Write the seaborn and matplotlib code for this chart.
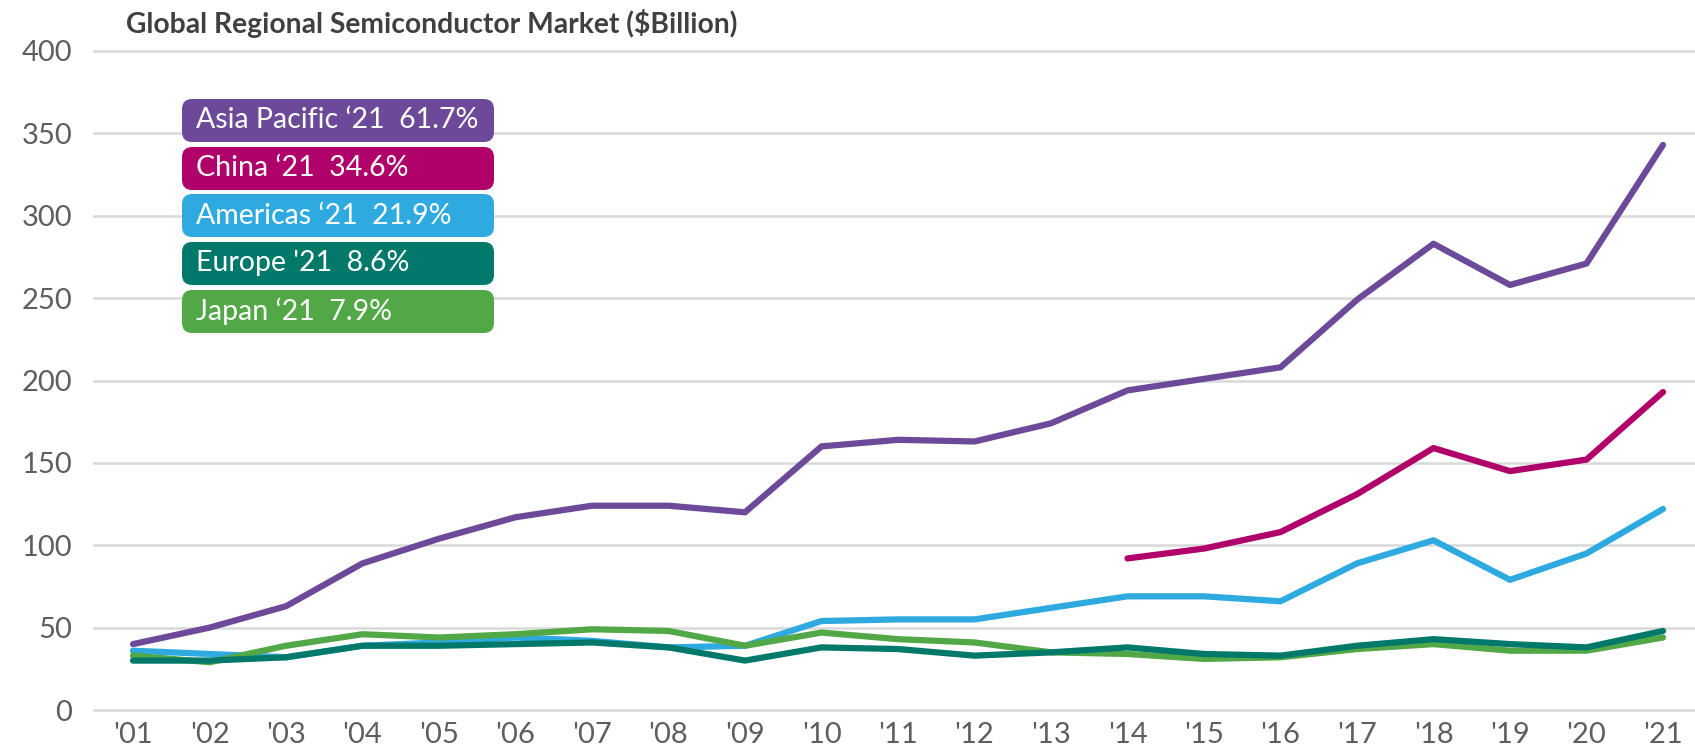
import matplotlib
matplotlib.use("Agg")
import matplotlib.pyplot as plt
from matplotlib.patches import FancyBboxPatch
import seaborn as sns
import pandas as pd

# Data ($ billion)
years = list(range(2001, 2022))
asia_pacific = [40, 50, 63, 89, 104, 117, 124, 124, 120, 160, 164, 163,
                174, 194, 201, 208, 249, 283, 258, 271, 343]
china_years = list(range(2014, 2022))
china = [92, 98, 108, 131, 159, 145, 152, 193]
americas = [36, 34, 32, 39, 41, 44, 42, 38, 39, 54, 55, 55,
            62, 69, 69, 66, 89, 103, 79, 95, 122]
europe = [30, 30, 32, 39, 39, 40, 41, 38, 30, 38, 37, 33,
          35, 38, 34, 33, 39, 43, 40, 38, 48]
japan = [33, 29, 39, 46, 44, 46, 49, 48, 39, 47, 43, 41,
         35, 34, 31, 32, 37, 40, 36, 36, 44]

regions = ["Asia Pacific", "China", "Americas", "Japan", "Europe"]
legend_order = ["Asia Pacific", "China", "Americas", "Europe", "Japan"]
legend_labels = {
    "Asia Pacific": "Asia Pacific \u201821  61.7%",
    "China": "China \u201821  34.6%",
    "Americas": "Americas \u201821  21.9%",
    "Europe": "Europe '21  8.6%",
    "Japan": "Japan \u201821  7.9%",
}
palette = {
    "Asia Pacific": "#6C4A99",
    "China": "#B0016A",
    "Americas": "#2FAAE1",
    "Europe": "#00796A",
    "Japan": "#52A846",
}
yticks = [0, 50, 100, 150, 200, 250, 300, 350, 400]

frames = [
    pd.DataFrame({"year": years, "value": asia_pacific, "region": "Asia Pacific"}),
    pd.DataFrame({"year": china_years, "value": china, "region": "China"}),
    pd.DataFrame({"year": years, "value": americas, "region": "Americas"}),
    pd.DataFrame({"year": years, "value": japan, "region": "Japan"}),
    pd.DataFrame({"year": years, "value": europe, "region": "Europe"}),
]
df = pd.concat(frames, ignore_index=True)

sns.set_style("white")
plt.rcParams["font.family"] = ["Lato", "DejaVu Sans"]

W, H = 1695, 752
fig = plt.figure(figsize=(W / 100, H / 100), dpi=100)
# axes spans pixel x 93..1695, y 47..715
ax = fig.add_axes([93 / W, 1 - 715 / H, (W - 93) / W, (715 - 47) / H])

sns.lineplot(data=df, x="year", y="value", hue="region", hue_order=regions,
             palette=palette, linewidth=4.5, legend=False, ax=ax,
             solid_capstyle="round", solid_joinstyle="round")

px_per_year = 76.5
px_per_unit = 660 / 400
ax.set_xlim(2001 - 40 / px_per_year, 2021 + 32 / px_per_year)
ax.set_ylim(-5 / px_per_unit, 400 + 4 / px_per_unit)
ax.set_yticks(yticks)
ax.set_xticks(years)
ax.set_xticklabels([f"'{y % 100:02d}" for y in years])
ax.grid(axis="y", color="#D9D9D9", linewidth=1.8)
ax.set_axisbelow(True)
for s in ax.spines.values():
    s.set_visible(False)
ax.set_xlabel("")
ax.set_ylabel("")
ax.tick_params(axis="both", length=0, labelsize=21, colors="#5E5E5E")
ax.tick_params(axis="y", pad=15)
ax.tick_params(axis="x", pad=5)

fig.text(126 / W, 1 - 24 / H, "Global Regional Semiconductor Market ($Billion)",
         fontsize=20.3, fontweight="bold", color="#404040", va="center", ha="left")

# colored label boxes
box_x, box_w, box_h = 182, 312, 43
box_tops = [99, 147, 194, 242, 290]
for name, top in zip(legend_order, box_tops):
    patch = FancyBboxPatch((box_x / W, 1 - (top + box_h) / H), box_w / W, box_h / H,
                           boxstyle="round,pad=0,rounding_size=0.006",
                           transform=fig.transFigure, facecolor=palette[name],
                           edgecolor="none", mutation_aspect=W / H)
    fig.patches.append(patch)
    fig.text(196 / W, 1 - (top + box_h / 2) / H, legend_labels[name], color="white",
             fontsize=20.5, va="center", ha="left")

fig.savefig("out.png", dpi=100)
